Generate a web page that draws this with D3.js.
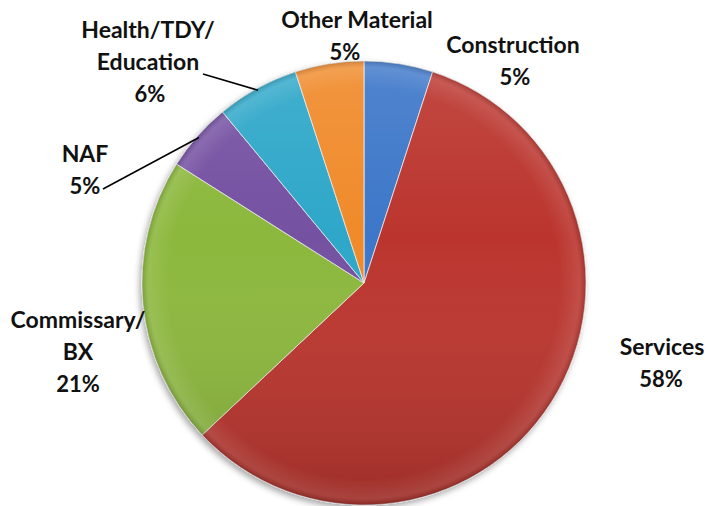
<!DOCTYPE html>
<html>
<head>
<meta charset="utf-8">
<script src="https://cdn.jsdelivr.net/npm/d3@7"></script>
<style>
  body { margin: 0; background: #fff; }
  text { font-family: Lato, "Open Sans", sans-serif; font-weight: bold; fill: #111; }
</style>
</head>
<body>
<div id="chart"></div>
<script>
// Data (clockwise from 12 o'clock)
const categories = ['Construction', 'Services', 'Commissary/BX', 'NAF', 'Health/TDY/Education', 'Other Material']
const values = [5, 58, 21, 5, 6, 5]
const labelLines = [['Construction'], ['Services'], ['Commissary/', 'BX'], ['NAF'], ['Health/TDY/', 'Education'], ['Other Material']]
const colors = ['#3d77c9', '#bb352f', '#8cb83c', '#7451a2', '#2ea7c9', '#f08a2a']

// label layout: text centre x, first baseline y, percent centre x, leader start (or null)
const labelLayout = [
  { x: 513, y: 53, px: 515, lead: null },
  { x: 662, y: 355, px: 661, lead: null },
  { x: 78, y: 328, px: 78, lead: null },
  { x: 85, y: 162, px: 85, lead: [103, 189] },
  { x: 148, y: 38, px: 150, lead: [203, 74] },
  { x: 357, y: 28, px: 345, lead: null },
]

// Dimensions
const dimensions = { width: 709, height: 506, cx: 364, cy: 283, radius: 222, lineHeight: 32 }

const svg = d3.select('#chart')
  .append('svg')
  .attr('width', dimensions.width)
  .attr('height', dimensions.height)

const defs = svg.append('defs')

const shadow = defs.append('filter').attr('id', 'shadow')
  .attr('x', '-10%').attr('y', '-10%').attr('width', '120%').attr('height', '120%')
shadow.append('feDropShadow')
  .attr('dx', -2).attr('dy', 3).attr('stdDeviation', 3)
  .attr('flood-color', '#000').attr('flood-opacity', 0.35)

const shade = defs.append('linearGradient').attr('id', 'shade')
  .attr('x1', 0).attr('y1', 0).attr('x2', 0).attr('y2', 1)
shade.append('stop').attr('offset', '0%').attr('stop-color', '#fff').attr('stop-opacity', 0.1)
shade.append('stop').attr('offset', '40%').attr('stop-color', '#fff').attr('stop-opacity', 0)
shade.append('stop').attr('offset', '100%').attr('stop-color', '#000').attr('stop-opacity', 0.16)

const rim = defs.append('radialGradient').attr('id', 'rim')
rim.append('stop').attr('offset', '88%').attr('stop-color', '#fff').attr('stop-opacity', 0)
rim.append('stop').attr('offset', '97%').attr('stop-color', '#fff').attr('stop-opacity', 0.1)
rim.append('stop').attr('offset', '100%').attr('stop-color', '#000').attr('stop-opacity', 0.15)

const ctr = svg.append('g')
  .attr('transform', `translate(${dimensions.cx}, ${dimensions.cy})`)

// Generators
const pie = d3.pie().sort(null).value(d => d)
const arcs = pie(values)

const arc = d3.arc()
  .innerRadius(0)
  .outerRadius(dimensions.radius)

const edgeArc = d3.arc()
  .innerRadius(dimensions.radius - 2)
  .outerRadius(dimensions.radius - 2)

// Slices
const slices = ctr.append('g').attr('filter', 'url(#shadow)')
slices.selectAll('path')
  .data(arcs)
  .join('path')
  .attr('d', arc)
  .attr('fill', (d, i) => colors[i])
  .attr('stroke', 'rgba(235,235,235,0.8)')
  .attr('stroke-width', 1)

// shading overlays
ctr.append('circle')
  .attr('r', dimensions.radius)
  .attr('fill', 'url(#shade)')
ctr.append('circle')
  .attr('r', dimensions.radius)
  .attr('fill', 'url(#rim)')

// Labels
const labels = svg.append('g')
arcs.forEach((d, i) => {
  const lay = labelLayout[i]
  const g = labels.append('g')
  labelLines[i].forEach((line, j) => {
    g.append('text')
      .attr('x', lay.x)
      .attr('y', lay.y + j * dimensions.lineHeight)
      .attr('text-anchor', 'middle')
      .style('font-size', '23px')
      .text(line)
  })
  g.append('text')
    .attr('x', lay.px)
    .attr('y', lay.y + labelLines[i].length * dimensions.lineHeight)
    .attr('text-anchor', 'middle')
    .style('font-size', '22px')
    .text(d3.format('.0%')(d.data / d3.sum(values)))

  if (lay.lead) {
    const [ex, ey] = edgeArc.centroid(d)
    labels.append('line')
      .attr('x1', lay.lead[0]).attr('y1', lay.lead[1])
      .attr('x2', dimensions.cx + ex).attr('y2', dimensions.cy + ey)
      .attr('stroke', '#000')
      .attr('stroke-width', 1.5)
  }
})
</script>
</body>
</html>
